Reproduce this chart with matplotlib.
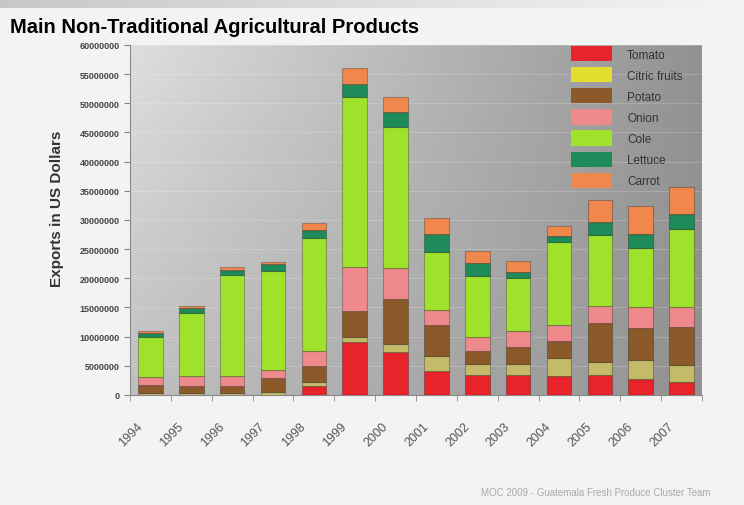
import numpy as np
import matplotlib
matplotlib.use("Agg")
import matplotlib.pyplot as plt
from matplotlib.ticker import MultipleLocator, FuncFormatter
from matplotlib.transforms import ScaledTranslation

# exportations par produit (USD), 1994-2007
years = ["1994", "1995", "1996", "1997", "1998", "1999", "2000",
         "2001", "2002", "2003", "2004", "2005", "2006", "2007"]
tomato = [0.05, 0.05, 0.05, 0.05, 1.6, 9.0, 7.4, 4.05, 3.5, 3.5, 3.3, 3.4, 2.75, 2.3]
citric = [0.3, 0.3, 0.35, 0.4, 0.57, 1.0, 1.3, 2.7, 1.8, 1.8, 3.0, 2.3, 3.25, 2.85]
potato = [1.3, 1.25, 1.2, 2.4, 2.73, 4.45, 7.7, 5.25, 2.3, 2.85, 2.9, 6.6, 5.4, 6.45]
onion = [1.4, 1.6, 1.7, 1.43, 2.7, 7.45, 5.45, 2.55, 2.4, 2.75, 2.85, 3.0, 3.6, 3.55]
cole = [6.9, 10.86, 17.27, 17.0, 19.26, 29.1, 24.1, 9.9, 10.35, 9.1, 14.1, 12.1, 10.2, 13.3]
lettuce = [0.7, 0.8, 0.93, 1.16, 1.44, 2.3, 2.55, 3.15, 2.3, 1.1, 1.05, 2.2, 2.4, 2.55]
carrot = [0.3, 0.44, 0.4, 0.4, 1.2, 2.75, 2.55, 2.75, 1.95, 1.8, 1.8, 3.8, 4.75, 4.6]

series = [("Tomato", tomato, "#e8232a", "#e8232a"),
          ("Citric fruits", citric, "#c4bb68", "#e4df2e"),
          ("Potato", potato, "#8c5a2a", "#8c5a2a"),
          ("Onion", onion, "#ee8a8c", "#ee8a8c"),
          ("Cole", cole, "#9fe22c", "#9fe22c"),
          ("Lettuce", lettuce, "#1f8a5a", "#1f8a5a"),
          ("Carrot", carrot, "#f0884e", "#f0884e")]

plt.rcParams['font.family'] = ['Liberation Sans', 'DejaVu Sans']

fig = plt.figure(figsize=(7.44, 5.06), dpi=100, facecolor="#f3f3f3")

# bandeau gris en haut de la page
band = fig.add_axes([0, 1 - 9 / 506, 1, 9 / 506])
band.imshow(np.linspace(0.78, 0.955, 200)[None, :], cmap="gray", vmin=0, vmax=1,
            aspect="auto", extent=[0, 1, 0, 1])
band.axis("off")

ax = fig.add_axes([0.1747, 0.2174, 0.7688, 0.6917])

# fond en dégradé gris
gx, gy = np.meshgrid(np.linspace(0, 1, 200), np.linspace(1, 0, 200))
grad = 0.87 - 0.30 * gx - 0.12 * (1 - gy) * (1 - gx)
ax.imshow(grad, cmap="gray", vmin=0, vmax=1, extent=[0, 1, 0, 1],
          transform=ax.transAxes, aspect="auto", zorder=0)

x = np.arange(len(years))
bottom = np.zeros(len(years))
for name, vals, col, _ in series:
    v = np.array(vals) * 1e6
    ax.bar(x, v, 0.6, bottom=bottom, color=col, edgecolor=matplotlib.colors.to_rgba("black", 0.25),
           linewidth=0.8, label=name, zorder=3)
    bottom += v

ax.set_xlim(-0.5, len(years) - 0.5)
ax.set_ylim(0, 60e6)
ax.yaxis.set_major_locator(MultipleLocator(5e6))
ax.yaxis.set_major_formatter(FuncFormatter(lambda v, p: f"{int(v)}"))
ax.grid(axis="y", color="white", alpha=0.18, linewidth=0.8, zorder=1)
ax.set_axisbelow(True)

ax.set_xticks(x)
ax.set_xticklabels(years, rotation=45, ha="right", rotation_mode="anchor",
                   fontsize=9, color="#555555")
ax.set_xticks(np.arange(len(years) + 1) - 0.5, minor=True)
ax.tick_params(axis="x", which="major", length=0, pad=8)
ax.tick_params(axis="x", which="minor", length=4, color="#888888")
ax.tick_params(axis="y", length=4, color="#888888", labelsize=6.5, labelcolor="#444444")
for t in ax.get_yticklabels():
    t.set_fontweight("bold")

# décale les années vers le bas à gauche (après tick_params, qui remet les transformations)
shift = ScaledTranslation(-0.14, -0.14, fig.dpi_scale_trans)
for lab in ax.xaxis.get_majorticklabels():
    lab.set_transform(lab.get_transform() + shift)

for s in ["top", "right"]:
    ax.spines[s].set_visible(False)
for s in ["left", "bottom"]:
    ax.spines[s].set_color("#888888")

ax.set_ylabel("Exports in US Dollars", fontsize=11, fontweight="bold", color="#333333")
ax.yaxis.set_label_coords(-0.115, 0.535)

leg = ax.legend(loc="upper right", frameon=False, fontsize=8.5, handlelength=3.5,
                handleheight=1.6, labelspacing=0.5, handletextpad=1.3,
                bbox_to_anchor=(0.985, 1.027))
for h, (_, _, _, lc) in zip(leg.legend_handles, series):
    h.set_facecolor(lc)
    h.set_edgecolor("none")
for t in leg.get_texts():
    t.set_color("#333333")

fig.text(0.013, 0.935, "Main Non-Traditional Agricultural Products", fontsize=14.5,
         fontweight="bold", color="black", va="baseline")
fig.text(0.955, 0.02, "MOC 2009 - Guatemala Fresh Produce Cluster Team",
         fontsize=7, color="#aaaaaa", ha="right")

fig.savefig("out.png", dpi=100, facecolor=fig.get_facecolor())
